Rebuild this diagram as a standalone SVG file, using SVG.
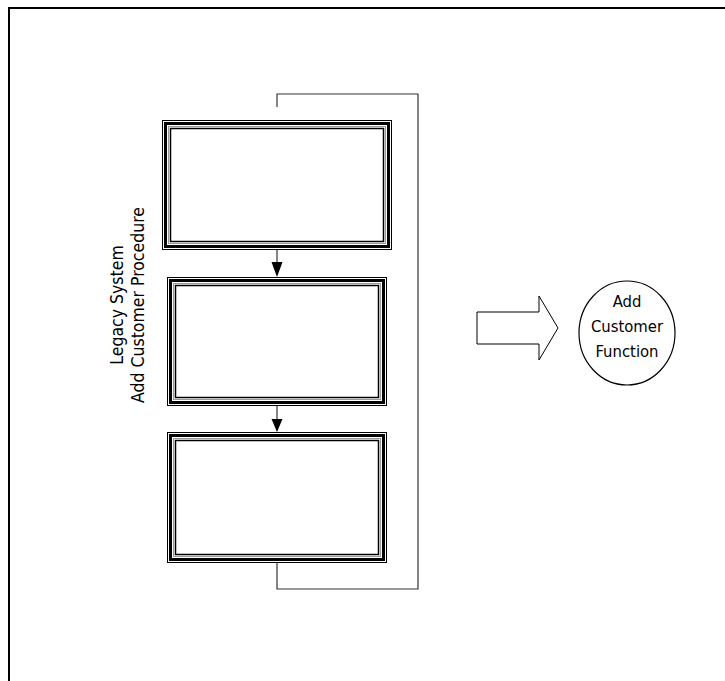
<svg xmlns="http://www.w3.org/2000/svg" width="725" height="681" viewBox="0 0 725 681">
<style>
.lbl{font-family:"DejaVu Sans Condensed","DejaVu Sans","Liberation Sans",sans-serif;font-size:16.5px;fill:#000}
.side{font-size:17.5px}
.outer{fill:#fff;stroke:#000;stroke-width:1}
.thick{fill:none;stroke:#000;stroke-width:3}
.gray{fill:none;stroke:#999;stroke-width:1}
.inner{fill:none;stroke:#000;stroke-width:1.5}
.conn{fill:none;stroke:#333;stroke-width:1.2}
.head{fill:#000}
</style>
<rect x="9" y="8" width="730" height="690" fill="#fff" stroke="#000" stroke-width="2"/>
<g id="title">
<text class="lbl side" transform="translate(123,305) rotate(-90)" text-anchor="middle">Legacy System</text>
<text class="lbl side" transform="translate(144,305) rotate(-90)" text-anchor="middle">Add Customer Procedure</text>
</g>
<g id="box1">
<rect class="outer" x="162.5" y="120.5" width="229" height="129"/>
<rect class="thick" x="165.5" y="123.5" width="223" height="123"/>
<rect class="gray" x="168.5" y="126.5" width="217" height="117"/>
<rect class="inner" x="170.5" y="128.5" width="213" height="113"/>
</g>
<g id="box2">
<rect class="outer" x="167.5" y="277.5" width="219" height="128"/>
<rect class="thick" x="170.5" y="280.5" width="213" height="122"/>
<rect class="gray" x="173.5" y="283.5" width="207" height="116"/>
<rect class="inner" x="175.5" y="285.5" width="203" height="112"/>
</g>
<g id="box3">
<rect class="outer" x="167.5" y="432.5" width="219" height="130"/>
<rect class="thick" x="170.5" y="435.5" width="213" height="124"/>
<rect class="gray" x="173.5" y="438.5" width="207" height="118"/>
<rect class="inner" x="175.5" y="440.5" width="203" height="114"/>
</g>
<g id="connectors">
<path class="conn" d="M277,250 V262"/>
<path class="head" d="M271.5,262 H282.5 L277,277 Z"/>
<path class="conn" d="M277,406 V419"/>
<path class="head" d="M271.5,419 H282.5 L277,432 Z"/>
<path class="conn" d="M277,107 V94 H418 V589 H277 V563"/>
</g>
<g id="blockArrow">
<polygon points="477,312 539,312 539,296 558,328 539,360 539,344 477,344" fill="#fff" stroke="#000" stroke-width="1"/>
</g>
<g id="func">
<ellipse cx="627" cy="333" rx="48" ry="52" fill="#fff" stroke="#000" stroke-width="1.2"/>
<text class="lbl" text-anchor="middle"><tspan x="627" y="307">Add</tspan><tspan x="627" y="332">Customer</tspan><tspan x="627" y="357">Function</tspan></text>
</g>
</svg>
